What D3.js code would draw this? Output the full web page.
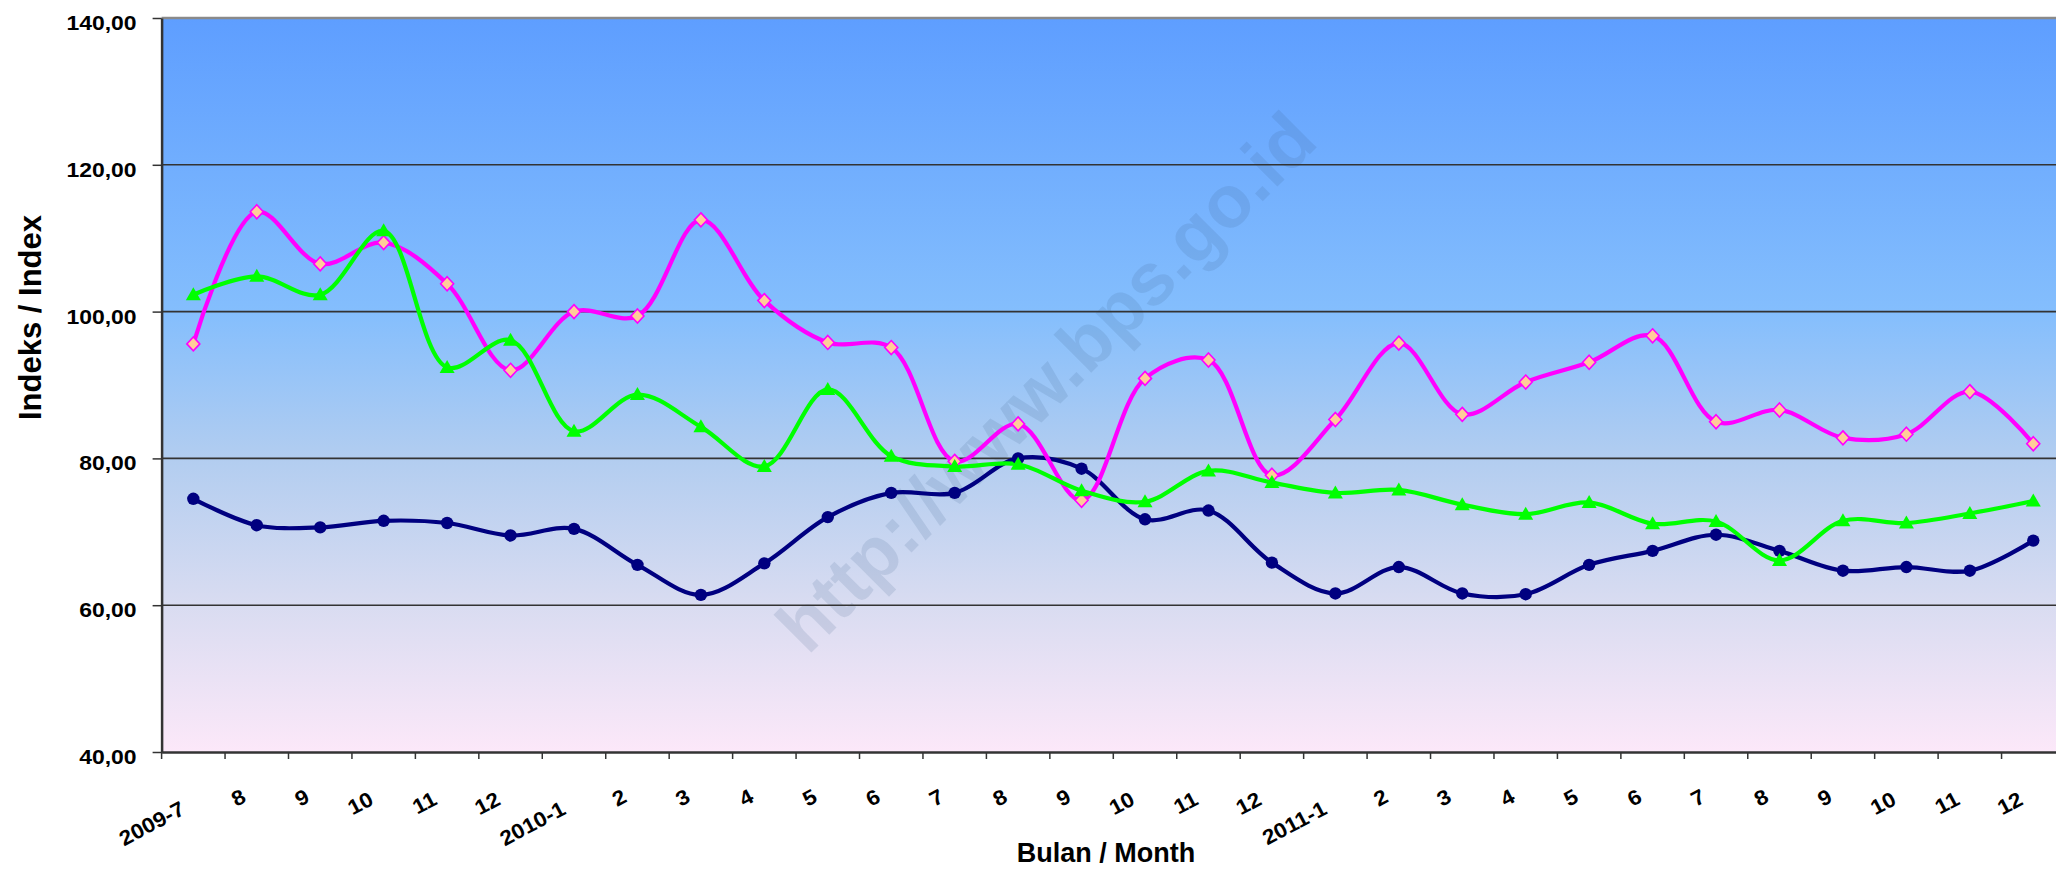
<!DOCTYPE html>
<html>
<head>
<meta charset="utf-8">
<script src="https://cdn.jsdelivr.net/npm/d3@7"></script>
<style>
  html, body { margin: 0; padding: 0; background: #ffffff; overflow: hidden; }
  svg { display: block; }
  text { font-family: "Liberation Sans", Arial, Helvetica, sans-serif; font-weight: bold; }
</style>
</head>
<body>
<svg id="chart" width="2056" height="869"></svg>
<script>
// ---------- data ----------
const periods = ["2009-07","2009-08","2009-09","2009-10","2009-11","2009-12",
  "2010-01","2010-02","2010-03","2010-04","2010-05","2010-06","2010-07","2010-08","2010-09","2010-10","2010-11","2010-12",
  "2011-01","2011-02","2011-03","2011-04","2011-05","2011-06","2011-07","2011-08","2011-09","2011-10","2011-11","2011-12"];
const tickLabels = ["2009-7","8","9","10","11","12","2010-1","2","3","4","5","6","7","8","9","10","11","12",
  "2011-1","2","3","4","5","6","7","8","9","10","11","12"];
const navySeries = [74.5,70.9,70.6,71.5,71.2,69.5,70.4,65.5,61.4,65.7,72.0,75.3,75.3,80.0,78.6,71.7,72.9,65.8,
  61.6,65.2,61.6,61.5,65.5,67.4,69.6,67.4,64.7,65.2,64.7,68.8];
const greenSeries = [102.3,104.8,102.3,111.0,92.4,96.1,83.7,88.7,84.3,78.9,89.4,80.3,78.9,79.2,75.6,74.1,78.3,76.7,
  75.3,75.7,73.7,72.4,74.0,71.1,71.4,66.1,71.5,71.2,72.5,74.2];
const magentaSeries = [95.6,113.6,106.5,109.4,103.8,92.0,100.0,99.4,112.5,101.5,95.8,95.1,79.6,84.7,74.3,90.9,93.4,77.7,
  85.3,95.7,86.0,90.4,93.1,96.7,85.0,86.6,82.8,83.3,89.1,82.0];
const yTicks = [40,60,80,100,120,140];
const yTitle = "Indeks / Index";
const xTitle = "Bulan / Month";
const watermark = "http://www.bps.go.id";

// ---------- layout ----------
const L = 161.6, R = 2065, T = 18, B = 752;
const svg = d3.select("#chart");

const x = d3.scaleBand().domain(periods).range([L, R]).padding(0);
const y = d3.scaleLinear().domain([40, 140]).range([B, T]);
const cx = p => x(p) + x.bandwidth() / 2;

// background gradient
const defs = svg.append("defs");
const grad = defs.append("linearGradient").attr("id", "bg")
  .attr("x1", 0).attr("y1", 0).attr("x2", 0).attr("y2", 1);
[[0, "#5e9eff"], [0.4, "#84befd"], [0.6, "#b2cdf0"], [0.8, "#d9dcf1"], [1, "#fce8f9"]]
  .forEach(([o, c]) => grad.append("stop").attr("offset", o).attr("stop-color", c));

svg.append("rect").attr("x", L).attr("y", T).attr("width", R - L).attr("height", B - T)
  .attr("fill", "url(#bg)");

// watermark
svg.append("text")
  .attr("transform", "translate(1046,382) rotate(-45)")
  .attr("text-anchor", "middle").attr("dominant-baseline", "central")
  .attr("font-size", 74).attr("fill", "#3a5a8a").attr("fill-opacity", 0.14)
  .text(watermark);

// gridlines
svg.append("g").selectAll("line").data(yTicks.filter(v => v > 40 && v < 140)).join("line")
  .attr("x1", L).attr("x2", R).attr("y1", d => y(d)).attr("y2", d => y(d))
  .attr("stroke", "#333333").attr("stroke-width", 1.6);

// top border
svg.append("line").attr("x1", L).attr("x2", R).attr("y1", T).attr("y2", T)
  .attr("stroke", "#8a8a8a").attr("stroke-width", 2.5);

// y axis
const fmt = d => d3.format(".2f")(d).replace(".", ",");
const yAxis = svg.append("g").attr("transform", `translate(${L},0)`)
  .call(d3.axisLeft(y).tickValues(yTicks).tickSize(9).tickSizeOuter(0).tickFormat(fmt));
yAxis.select(".domain").attr("stroke", "#333").attr("stroke-width", 2.5);
yAxis.selectAll(".tick line").attr("stroke", "#333").attr("stroke-width", 1.5);
yAxis.selectAll(".tick text")
  .attr("x", null).attr("dy", null)
  .attr("transform", "translate(-25,11.5) scale(1.12,1)")
  .attr("font-size", 20.5).attr("fill", "#000").attr("text-anchor", "end")
  .style("font-family", '"Liberation Sans", Arial, sans-serif').style("font-weight", "bold");

// x axis
const xAxis = svg.append("g").attr("transform", `translate(0,${B})`)
  .call(d3.axisBottom(x).tickSize(7).tickSizeOuter(0).tickFormat(""));
xAxis.select(".domain").attr("stroke", "#333").attr("stroke-width", 2.5);
xAxis.selectAll(".tick line").attr("transform", `translate(${-x.bandwidth() / 2},0)`)
  .attr("stroke", "#333").attr("stroke-width", 1.5);
xAxis.selectAll(".tick text").remove();

// x tick labels
const lab = svg.append("g").selectAll("text").data(periods).join("text")
  .attr("font-size", 21).attr("fill", "#000").attr("text-anchor", "end")
  .text((d, i) => tickLabels[i]);
lab.each(function (d) {
  const len = this.getComputedTextLength() * 1.08;
  const ax = cx(d) - 9.3 + (len - 12) * 0.04;
  const ay = 801 + (len - 12) * 0.21;
  d3.select(this).attr("transform", `translate(${ax},${ay}) rotate(-28) scale(1.08,1)`);
});

// axis titles
svg.append("text").attr("transform", "translate(41,317.5) rotate(-90)")
  .attr("text-anchor", "middle").attr("font-size", 31).attr("fill", "#000").text(yTitle);
svg.append("text").attr("x", 1106).attr("y", 862)
  .attr("text-anchor", "middle").attr("font-size", 27).attr("fill", "#000").text(xTitle);

// lines
const line = vals => d3.line()
  .x((d, i) => cx(periods[i])).y(d => y(d))
  .curve(d3.curveCatmullRom.alpha(0.5))(vals);

const series = [
  { vals: navySeries, color: "#000080" },
  { vals: magentaSeries, color: "#ff00ff" },
  { vals: greenSeries, color: "#00ff00" }
];
series.forEach(s => {
  svg.append("path").attr("d", line(s.vals)).attr("fill", "none")
    .attr("stroke", s.color).attr("stroke-width", 4.2).attr("stroke-linejoin", "round");
});

// markers
svg.append("g").selectAll("circle").data(navySeries).join("circle")
  .attr("cx", (d, i) => cx(periods[i])).attr("cy", d => y(d)).attr("r", 6.2)
  .attr("fill", "#000080");
svg.append("g").selectAll("path").data(magentaSeries).join("path")
  .attr("transform", (d, i) => `translate(${cx(periods[i])},${y(d)})`)
  .attr("d", "M0,-7L6.5,0L0,7L-6.5,0Z")
  .attr("fill", "#ffcc99").attr("stroke", "#ff00ff").attr("stroke-width", 1.6);
svg.append("g").selectAll("path").data(greenSeries).join("path")
  .attr("transform", (d, i) => `translate(${cx(periods[i])},${y(d)})`)
  .attr("d", "M0,-7.5L7.5,5.5L-7.5,5.5Z")
  .attr("fill", "#00ff00");
</script>
</body>
</html>
